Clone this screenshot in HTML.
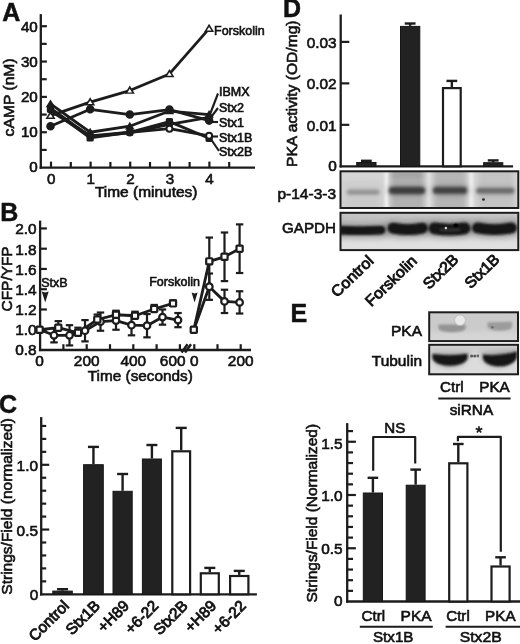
<!DOCTYPE html>
<html><head><meta charset="utf-8"><title>Figure</title>
<style>
html,body{margin:0;padding:0;background:#fff;}
body{width:520px;height:644px;overflow:hidden;font-family:"Liberation Sans",sans-serif;}
svg{display:block;will-change:transform;}
svg text{font-family:"Liberation Sans",sans-serif;fill:#111;stroke:#111;stroke-width:0.62px;}
</style></head><body>
<svg width="520" height="644" viewBox="0 0 520 644">
<defs>
<filter id="b1" filterUnits="userSpaceOnUse" x="0" y="0" width="520" height="644"><feGaussianBlur stdDeviation="0.7"/></filter>
<filter id="b15" filterUnits="userSpaceOnUse" x="0" y="0" width="520" height="644"><feGaussianBlur stdDeviation="1.3"/></filter>
<filter id="b2" filterUnits="userSpaceOnUse" x="0" y="0" width="520" height="644"><feGaussianBlur stdDeviation="1.6"/></filter>
<filter id="b3" filterUnits="userSpaceOnUse" x="0" y="0" width="520" height="644"><feGaussianBlur stdDeviation="2.6"/></filter>
<filter id="b4" filterUnits="userSpaceOnUse" x="0" y="0" width="520" height="644"><feGaussianBlur stdDeviation="4"/></filter>
</defs>
<rect width="520" height="644" fill="#fff"/>
<g id="panelA">
<line x1="40.80" y1="14.10" x2="40.80" y2="168.75" stroke="#1c1c1c" stroke-width="2.3" />
<line x1="39.65" y1="167.60" x2="255.00" y2="167.60" stroke="#1c1c1c" stroke-width="2.3" />
<line x1="40.80" y1="149.92" x2="46.70" y2="149.92" stroke="#1c1c1c" stroke-width="2.2" />
<line x1="40.80" y1="132.25" x2="46.90" y2="132.25" stroke="#1c1c1c" stroke-width="2.2" />
<line x1="40.80" y1="114.57" x2="46.70" y2="114.57" stroke="#1c1c1c" stroke-width="2.2" />
<line x1="40.80" y1="96.90" x2="46.90" y2="96.90" stroke="#1c1c1c" stroke-width="2.2" />
<line x1="40.80" y1="79.22" x2="46.70" y2="79.22" stroke="#1c1c1c" stroke-width="2.2" />
<line x1="40.80" y1="61.55" x2="46.90" y2="61.55" stroke="#1c1c1c" stroke-width="2.2" />
<line x1="40.80" y1="43.87" x2="46.70" y2="43.87" stroke="#1c1c1c" stroke-width="2.2" />
<line x1="40.80" y1="26.20" x2="46.90" y2="26.20" stroke="#1c1c1c" stroke-width="2.2" />
<text x="37.80" y="172.10" font-size="15.2" text-anchor="end" font-weight="normal" >0</text>
<text x="37.80" y="137.05" font-size="15.2" text-anchor="end" font-weight="normal" >10</text>
<text x="37.80" y="102.00" font-size="15.2" text-anchor="end" font-weight="normal" >20</text>
<text x="37.80" y="66.95" font-size="15.2" text-anchor="end" font-weight="normal" >30</text>
<text x="37.80" y="31.90" font-size="15.2" text-anchor="end" font-weight="normal" >40</text>
<line x1="51.00" y1="167.60" x2="51.00" y2="161.60" stroke="#1c1c1c" stroke-width="2.2" />
<line x1="70.80" y1="167.60" x2="70.80" y2="162.00" stroke="#1c1c1c" stroke-width="2.2" />
<line x1="90.60" y1="167.60" x2="90.60" y2="161.60" stroke="#1c1c1c" stroke-width="2.2" />
<line x1="110.40" y1="167.60" x2="110.40" y2="162.00" stroke="#1c1c1c" stroke-width="2.2" />
<line x1="130.20" y1="167.60" x2="130.20" y2="161.60" stroke="#1c1c1c" stroke-width="2.2" />
<line x1="150.00" y1="167.60" x2="150.00" y2="162.00" stroke="#1c1c1c" stroke-width="2.2" />
<line x1="169.80" y1="167.60" x2="169.80" y2="161.60" stroke="#1c1c1c" stroke-width="2.2" />
<line x1="189.60" y1="167.60" x2="189.60" y2="162.00" stroke="#1c1c1c" stroke-width="2.2" />
<line x1="209.40" y1="167.60" x2="209.40" y2="161.60" stroke="#1c1c1c" stroke-width="2.2" />
<line x1="229.20" y1="167.60" x2="229.20" y2="162.00" stroke="#1c1c1c" stroke-width="2.2" />
<text x="51.20" y="183.60" font-size="15.2" text-anchor="middle" font-weight="normal" >0</text>
<text x="90.80" y="183.60" font-size="15.2" text-anchor="middle" font-weight="normal" >1</text>
<text x="130.40" y="183.60" font-size="15.2" text-anchor="middle" font-weight="normal" >2</text>
<text x="170.00" y="183.60" font-size="15.2" text-anchor="middle" font-weight="normal" >3</text>
<text x="209.60" y="183.60" font-size="15.2" text-anchor="middle" font-weight="normal" >4</text>
<text x="146.20" y="197.40" font-size="14.8" text-anchor="middle" font-weight="normal"  textLength="102.5" lengthAdjust="spacingAndGlyphs">Time (minutes)</text>
<text x="14.30" y="97.40" font-size="14.8" text-anchor="middle" font-weight="normal" transform="rotate(-90 14.30 97.40)"  textLength="78" lengthAdjust="spacingAndGlyphs">cAMP (nM)</text>
<text x="2.3" y="20.6" font-size="25" font-weight="bold" style="stroke-width:0.5px">A</text>
<polyline points="50.50,108.21 90.15,136.49 129.80,132.96 169.45,124.47 209.10,117.40" fill="none" stroke="#1c1c1c" stroke-width="2.8" stroke-linejoin="round"/>
<polyline points="50.50,109.27 90.15,137.91 129.80,132.25 169.45,121.64 209.10,138.26" fill="none" stroke="#1c1c1c" stroke-width="2.8" stroke-linejoin="round"/>
<polyline points="50.50,111.04 90.15,135.78 129.80,132.25 169.45,128.71 209.10,135.78" fill="none" stroke="#1c1c1c" stroke-width="2.8" stroke-linejoin="round"/>
<polyline points="50.50,103.97 90.15,132.25 129.80,126.24 169.45,111.04 209.10,114.57" fill="none" stroke="#1c1c1c" stroke-width="2.8" stroke-linejoin="round"/>
<polyline points="50.50,126.24 90.15,109.27 129.80,114.57 169.45,109.63 209.10,120.58" fill="none" stroke="#1c1c1c" stroke-width="2.8" stroke-linejoin="round"/>
<polyline points="50.50,115.64 90.15,102.20 129.80,90.54 169.45,73.92 209.10,28.67" fill="none" stroke="#1c1c1c" stroke-width="2.8" stroke-linejoin="round"/>
<circle cx="50.50" cy="108.21" r="2.6" fill="#1c1c1c" stroke="#1c1c1c" stroke-width="1.8"/>
<circle cx="90.15" cy="136.49" r="2.6" fill="#1c1c1c" stroke="#1c1c1c" stroke-width="1.8"/>
<circle cx="129.80" cy="132.96" r="2.6" fill="#1c1c1c" stroke="#1c1c1c" stroke-width="1.8"/>
<circle cx="169.45" cy="124.47" r="2.6" fill="#1c1c1c" stroke="#1c1c1c" stroke-width="1.8"/>
<circle cx="209.10" cy="117.40" r="2.6" fill="#1c1c1c" stroke="#1c1c1c" stroke-width="1.8"/>
<rect x="47.75" y="106.52" width="5.5" height="5.5" rx="0.7" fill="#1c1c1c" stroke="#1c1c1c" stroke-width="1.8"/>
<rect x="87.40" y="135.16" width="5.5" height="5.5" rx="0.7" fill="#1c1c1c" stroke="#1c1c1c" stroke-width="1.8"/>
<rect x="127.05" y="129.50" width="5.5" height="5.5" rx="0.7" fill="#1c1c1c" stroke="#1c1c1c" stroke-width="1.8"/>
<rect x="166.70" y="118.89" width="5.5" height="5.5" rx="0.7" fill="#1c1c1c" stroke="#1c1c1c" stroke-width="1.8"/>
<rect x="206.35" y="135.51" width="5.5" height="5.5" rx="0.7" fill="#1c1c1c" stroke="#1c1c1c" stroke-width="1.8"/>
<polygon points="50.50,99.38 45.75,107.27 55.25,107.27" fill="#1c1c1c"/>
<polygon points="90.15,127.67 85.40,135.55 94.90,135.55" fill="#1c1c1c"/>
<polygon points="129.80,121.66 125.05,129.54 134.55,129.54" fill="#1c1c1c"/>
<polygon points="169.45,106.45 164.70,114.34 174.20,114.34" fill="#1c1c1c"/>
<polygon points="209.10,109.99 204.35,117.87 213.85,117.87" fill="#1c1c1c"/>
<circle cx="50.50" cy="126.24" r="3.4" fill="#1c1c1c" stroke="#1c1c1c" stroke-width="1.8"/>
<circle cx="90.15" cy="109.27" r="3.4" fill="#1c1c1c" stroke="#1c1c1c" stroke-width="1.8"/>
<circle cx="129.80" cy="114.57" r="3.4" fill="#1c1c1c" stroke="#1c1c1c" stroke-width="1.8"/>
<circle cx="169.45" cy="109.63" r="3.4" fill="#1c1c1c" stroke="#1c1c1c" stroke-width="1.8"/>
<circle cx="209.10" cy="120.58" r="3.4" fill="#1c1c1c" stroke="#1c1c1c" stroke-width="1.8"/>
<circle cx="169.45" cy="128.71" r="3.0" fill="#fff" stroke="#1c1c1c" stroke-width="2.0"/>
<circle cx="209.10" cy="135.78" r="3.0" fill="#fff" stroke="#1c1c1c" stroke-width="2.0"/>
<polygon points="50.50,110.64 45.50,118.94 55.50,118.94" fill="#1c1c1c"/>
<polygon points="50.50,113.96 48.15,117.54 52.85,117.54" fill="#fff"/>
<polygon points="90.15,97.20 85.15,105.50 95.15,105.50" fill="#1c1c1c"/>
<polygon points="90.15,100.52 87.80,104.10 92.50,104.10" fill="#fff"/>
<polygon points="129.80,85.54 124.80,93.84 134.80,93.84" fill="#1c1c1c"/>
<polygon points="129.80,88.86 127.45,92.44 132.15,92.44" fill="#fff"/>
<polygon points="169.45,68.92 164.45,77.22 174.45,77.22" fill="#1c1c1c"/>
<polygon points="169.45,72.24 167.10,75.82 171.80,75.82" fill="#fff"/>
<polygon points="209.10,23.67 204.10,31.97 214.10,31.97" fill="#1c1c1c"/>
<polygon points="209.10,26.99 206.75,30.57 211.45,30.57" fill="#fff"/>
<text x="214.00" y="34.50" font-size="12.5" text-anchor="start" font-weight="normal" style="stroke-width:0.6px">Forskolin</text>
<text x="219.00" y="96.30" font-size="12.5" text-anchor="start" font-weight="normal" style="stroke-width:0.65px">IBMX</text>
<text x="219.00" y="112.20" font-size="12.5" text-anchor="start" font-weight="normal" style="stroke-width:0.65px">Stx2</text>
<text x="219.00" y="127.00" font-size="12.5" text-anchor="start" font-weight="normal" style="stroke-width:0.65px">Stx1</text>
<text x="219.00" y="141.50" font-size="12.5" text-anchor="start" font-weight="normal" style="stroke-width:0.65px">Stx1B</text>
<text x="219.00" y="156.20" font-size="12.5" text-anchor="start" font-weight="normal" style="stroke-width:0.65px">Stx2B</text>
<line x1="218.00" y1="93.50" x2="210.50" y2="113.00" stroke="#1c1c1c" stroke-width="2.1" />
<line x1="218.00" y1="108.00" x2="211.50" y2="116.50" stroke="#1c1c1c" stroke-width="2.1" />
<line x1="212.00" y1="122.00" x2="218.00" y2="122.00" stroke="#1c1c1c" stroke-width="2.1" />
<line x1="212.00" y1="136.50" x2="218.00" y2="136.50" stroke="#1c1c1c" stroke-width="2.1" />
<line x1="211.50" y1="140.00" x2="219.00" y2="151.00" stroke="#1c1c1c" stroke-width="2.1" />
</g>
<g id="panelB">
<line x1="40.10" y1="220.60" x2="40.10" y2="351.15" stroke="#1c1c1c" stroke-width="2.3" />
<line x1="38.95" y1="350.00" x2="251.00" y2="350.00" stroke="#1c1c1c" stroke-width="2.3" />
<line x1="181.60" y1="352.60" x2="187.60" y2="344.20" stroke="#1c1c1c" stroke-width="2.5" />
<line x1="185.00" y1="352.60" x2="191.00" y2="344.20" stroke="#1c1c1c" stroke-width="2.5" />
<line x1="40.10" y1="329.74" x2="46.90" y2="329.74" stroke="#1c1c1c" stroke-width="2.2" />
<line x1="40.10" y1="309.48" x2="46.90" y2="309.48" stroke="#1c1c1c" stroke-width="2.2" />
<line x1="40.10" y1="289.22" x2="46.90" y2="289.22" stroke="#1c1c1c" stroke-width="2.2" />
<line x1="40.10" y1="268.96" x2="46.90" y2="268.96" stroke="#1c1c1c" stroke-width="2.2" />
<line x1="40.10" y1="248.70" x2="46.90" y2="248.70" stroke="#1c1c1c" stroke-width="2.2" />
<line x1="40.10" y1="228.44" x2="46.90" y2="228.44" stroke="#1c1c1c" stroke-width="2.2" />
<text x="36.70" y="354.60" font-size="15.4" text-anchor="end" font-weight="normal" >0.8</text>
<text x="36.70" y="334.58" font-size="15.4" text-anchor="end" font-weight="normal" >1.0</text>
<text x="36.70" y="314.56" font-size="15.4" text-anchor="end" font-weight="normal" >1.2</text>
<text x="36.70" y="294.54" font-size="15.4" text-anchor="end" font-weight="normal" >1.4</text>
<text x="36.70" y="274.52" font-size="15.4" text-anchor="end" font-weight="normal" >1.6</text>
<text x="36.70" y="254.50" font-size="15.4" text-anchor="end" font-weight="normal" >1.8</text>
<text x="36.70" y="234.48" font-size="15.4" text-anchor="end" font-weight="normal" >2.0</text>
<line x1="63.40" y1="350.00" x2="63.40" y2="344.20" stroke="#1c1c1c" stroke-width="2.2" />
<line x1="86.70" y1="350.00" x2="86.70" y2="344.20" stroke="#1c1c1c" stroke-width="2.2" />
<line x1="110.00" y1="350.00" x2="110.00" y2="344.20" stroke="#1c1c1c" stroke-width="2.2" />
<line x1="133.30" y1="350.00" x2="133.30" y2="344.20" stroke="#1c1c1c" stroke-width="2.2" />
<line x1="156.60" y1="350.00" x2="156.60" y2="344.20" stroke="#1c1c1c" stroke-width="2.2" />
<line x1="179.90" y1="350.00" x2="179.90" y2="344.20" stroke="#1c1c1c" stroke-width="2.2" />
<line x1="194.30" y1="350.00" x2="194.30" y2="344.20" stroke="#1c1c1c" stroke-width="2.2" />
<line x1="217.50" y1="350.00" x2="217.50" y2="344.20" stroke="#1c1c1c" stroke-width="2.2" />
<line x1="240.70" y1="350.00" x2="240.70" y2="344.20" stroke="#1c1c1c" stroke-width="2.2" />
<text x="39.50" y="366.10" font-size="15.4" text-anchor="middle" font-weight="normal" >0</text>
<text x="86.70" y="366.10" font-size="15.4" text-anchor="middle" font-weight="normal" >200</text>
<text x="133.30" y="366.10" font-size="15.4" text-anchor="middle" font-weight="normal" >400</text>
<text x="172.70" y="366.10" font-size="15.4" text-anchor="middle" font-weight="normal" >600</text>
<text x="194.30" y="366.10" font-size="15.4" text-anchor="middle" font-weight="normal" >0</text>
<text x="240.70" y="366.10" font-size="15.4" text-anchor="middle" font-weight="normal" >200</text>
<text x="140.30" y="381.20" font-size="15.3" text-anchor="middle" font-weight="normal"  textLength="105" lengthAdjust="spacingAndGlyphs">Time (seconds)</text>
<text x="12.20" y="278.90" font-size="15.3" text-anchor="middle" font-weight="normal" transform="rotate(-90 12.20 278.90)"  textLength="65" lengthAdjust="spacingAndGlyphs">CFP/YFP</text>
<text x="0.2" y="221.3" font-size="25" font-weight="bold" style="stroke-width:0.5px">B</text>
<text x="41.20" y="286.60" font-size="12.5" text-anchor="start" font-weight="normal" style="stroke-width:0.6px">StxB</text>
<path d="M41.70,291.50 L45.20,292.40 L48.70,291.50 L45.20,302.40 Z" fill="#1c1c1c"/>
<text x="149.20" y="286.20" font-size="12.5" text-anchor="start" font-weight="normal" style="stroke-width:0.6px">Forskolin</text>
<path d="M191.60,292.50 L194.60,293.40 L197.60,292.50 L194.60,302.50 Z" fill="#1c1c1c"/>
<polyline points="40.00,329.74 54.00,335.31 69.50,335.31 85.00,330.75 100.50,321.64 116.00,320.62 131.50,325.18 147.00,325.69 162.50,317.08 178.00,320.12" fill="none" stroke="#1c1c1c" stroke-width="2.8" stroke-linejoin="round"/>
<line x1="54.00" y1="328.22" x2="54.00" y2="342.40" stroke="#1c1c1c" stroke-width="2.2" />
<line x1="50.30" y1="328.22" x2="57.70" y2="328.22" stroke="#1c1c1c" stroke-width="2.2" />
<line x1="50.30" y1="342.40" x2="57.70" y2="342.40" stroke="#1c1c1c" stroke-width="2.2" />
<line x1="69.50" y1="325.18" x2="69.50" y2="345.44" stroke="#1c1c1c" stroke-width="2.2" />
<line x1="65.80" y1="325.18" x2="73.20" y2="325.18" stroke="#1c1c1c" stroke-width="2.2" />
<line x1="65.80" y1="345.44" x2="73.20" y2="345.44" stroke="#1c1c1c" stroke-width="2.2" />
<line x1="85.00" y1="320.12" x2="85.00" y2="341.39" stroke="#1c1c1c" stroke-width="2.2" />
<line x1="81.30" y1="320.12" x2="88.70" y2="320.12" stroke="#1c1c1c" stroke-width="2.2" />
<line x1="81.30" y1="341.39" x2="88.70" y2="341.39" stroke="#1c1c1c" stroke-width="2.2" />
<line x1="100.50" y1="312.52" x2="100.50" y2="330.75" stroke="#1c1c1c" stroke-width="2.2" />
<line x1="96.80" y1="312.52" x2="104.20" y2="312.52" stroke="#1c1c1c" stroke-width="2.2" />
<line x1="96.80" y1="330.75" x2="104.20" y2="330.75" stroke="#1c1c1c" stroke-width="2.2" />
<line x1="116.00" y1="311.51" x2="116.00" y2="329.74" stroke="#1c1c1c" stroke-width="2.2" />
<line x1="112.30" y1="311.51" x2="119.70" y2="311.51" stroke="#1c1c1c" stroke-width="2.2" />
<line x1="112.30" y1="329.74" x2="119.70" y2="329.74" stroke="#1c1c1c" stroke-width="2.2" />
<line x1="131.50" y1="315.05" x2="131.50" y2="335.31" stroke="#1c1c1c" stroke-width="2.2" />
<line x1="127.80" y1="315.05" x2="135.20" y2="315.05" stroke="#1c1c1c" stroke-width="2.2" />
<line x1="127.80" y1="335.31" x2="135.20" y2="335.31" stroke="#1c1c1c" stroke-width="2.2" />
<line x1="147.00" y1="314.04" x2="147.00" y2="337.34" stroke="#1c1c1c" stroke-width="2.2" />
<line x1="143.30" y1="314.04" x2="150.70" y2="314.04" stroke="#1c1c1c" stroke-width="2.2" />
<line x1="143.30" y1="337.34" x2="150.70" y2="337.34" stroke="#1c1c1c" stroke-width="2.2" />
<line x1="162.50" y1="309.48" x2="162.50" y2="324.68" stroke="#1c1c1c" stroke-width="2.2" />
<line x1="158.80" y1="309.48" x2="166.20" y2="309.48" stroke="#1c1c1c" stroke-width="2.2" />
<line x1="158.80" y1="324.68" x2="166.20" y2="324.68" stroke="#1c1c1c" stroke-width="2.2" />
<line x1="178.00" y1="313.03" x2="178.00" y2="327.21" stroke="#1c1c1c" stroke-width="2.2" />
<line x1="174.30" y1="313.03" x2="181.70" y2="313.03" stroke="#1c1c1c" stroke-width="2.2" />
<line x1="174.30" y1="327.21" x2="181.70" y2="327.21" stroke="#1c1c1c" stroke-width="2.2" />
<polyline points="39.60,329.74 58.30,327.71 78.00,332.78 97.30,319.61 116.00,314.75 135.00,315.76 154.20,308.97 173.00,303.40" fill="none" stroke="#1c1c1c" stroke-width="2.8" stroke-linejoin="round"/>
<line x1="58.30" y1="327.71" x2="58.30" y2="321.13" stroke="#1c1c1c" stroke-width="2.2" />
<line x1="54.60" y1="321.13" x2="62.00" y2="321.13" stroke="#1c1c1c" stroke-width="2.2" />
<line x1="78.00" y1="332.78" x2="78.00" y2="327.71" stroke="#1c1c1c" stroke-width="2.2" />
<line x1="74.30" y1="327.71" x2="81.70" y2="327.71" stroke="#1c1c1c" stroke-width="2.2" />
<line x1="97.30" y1="319.61" x2="97.30" y2="314.55" stroke="#1c1c1c" stroke-width="2.2" />
<line x1="93.60" y1="314.55" x2="101.00" y2="314.55" stroke="#1c1c1c" stroke-width="2.2" />
<line x1="116.00" y1="314.75" x2="116.00" y2="310.70" stroke="#1c1c1c" stroke-width="2.2" />
<line x1="112.30" y1="310.70" x2="119.70" y2="310.70" stroke="#1c1c1c" stroke-width="2.2" />
<line x1="135.00" y1="315.76" x2="135.00" y2="311.71" stroke="#1c1c1c" stroke-width="2.2" />
<line x1="131.30" y1="311.71" x2="138.70" y2="311.71" stroke="#1c1c1c" stroke-width="2.2" />
<line x1="154.20" y1="308.97" x2="154.20" y2="304.92" stroke="#1c1c1c" stroke-width="2.2" />
<line x1="150.50" y1="304.92" x2="157.90" y2="304.92" stroke="#1c1c1c" stroke-width="2.2" />
<line x1="173.00" y1="303.40" x2="173.00" y2="300.36" stroke="#1c1c1c" stroke-width="2.2" />
<line x1="169.30" y1="300.36" x2="176.70" y2="300.36" stroke="#1c1c1c" stroke-width="2.2" />
<circle cx="54.00" cy="335.31" r="3.3" fill="#fff" stroke="#1c1c1c" stroke-width="2.2"/>
<circle cx="69.50" cy="335.31" r="3.3" fill="#fff" stroke="#1c1c1c" stroke-width="2.2"/>
<circle cx="85.00" cy="330.75" r="3.3" fill="#fff" stroke="#1c1c1c" stroke-width="2.2"/>
<circle cx="100.50" cy="321.64" r="3.3" fill="#fff" stroke="#1c1c1c" stroke-width="2.2"/>
<circle cx="116.00" cy="320.62" r="3.3" fill="#fff" stroke="#1c1c1c" stroke-width="2.2"/>
<circle cx="131.50" cy="325.18" r="3.3" fill="#fff" stroke="#1c1c1c" stroke-width="2.2"/>
<circle cx="147.00" cy="325.69" r="3.3" fill="#fff" stroke="#1c1c1c" stroke-width="2.2"/>
<circle cx="162.50" cy="317.08" r="3.3" fill="#fff" stroke="#1c1c1c" stroke-width="2.2"/>
<circle cx="178.00" cy="320.12" r="3.3" fill="#fff" stroke="#1c1c1c" stroke-width="2.2"/>
<rect x="36.50" y="326.64" width="6.2" height="6.2" rx="0.7" fill="#fff" stroke="#1c1c1c" stroke-width="2.2"/>
<rect x="55.20" y="324.61" width="6.2" height="6.2" rx="0.7" fill="#fff" stroke="#1c1c1c" stroke-width="2.2"/>
<rect x="74.90" y="329.68" width="6.2" height="6.2" rx="0.7" fill="#fff" stroke="#1c1c1c" stroke-width="2.2"/>
<rect x="94.20" y="316.51" width="6.2" height="6.2" rx="0.7" fill="#fff" stroke="#1c1c1c" stroke-width="2.2"/>
<rect x="112.90" y="311.65" width="6.2" height="6.2" rx="0.7" fill="#fff" stroke="#1c1c1c" stroke-width="2.2"/>
<rect x="131.90" y="312.66" width="6.2" height="6.2" rx="0.7" fill="#fff" stroke="#1c1c1c" stroke-width="2.2"/>
<rect x="151.10" y="305.87" width="6.2" height="6.2" rx="0.7" fill="#fff" stroke="#1c1c1c" stroke-width="2.2"/>
<rect x="169.90" y="300.30" width="6.2" height="6.2" rx="0.7" fill="#fff" stroke="#1c1c1c" stroke-width="2.2"/>
<polyline points="193.80,329.74 209.30,286.69 224.50,301.38 239.60,302.39" fill="none" stroke="#1c1c1c" stroke-width="2.8" stroke-linejoin="round"/>
<polyline points="193.80,329.74 209.30,261.36 224.50,256.80 239.60,248.70" fill="none" stroke="#1c1c1c" stroke-width="2.8" stroke-linejoin="round"/>
<line x1="209.30" y1="237.56" x2="209.30" y2="285.17" stroke="#1c1c1c" stroke-width="2.2" />
<line x1="205.60" y1="237.56" x2="213.00" y2="237.56" stroke="#1c1c1c" stroke-width="2.2" />
<line x1="205.60" y1="285.17" x2="213.00" y2="285.17" stroke="#1c1c1c" stroke-width="2.2" />
<line x1="224.50" y1="232.49" x2="224.50" y2="281.12" stroke="#1c1c1c" stroke-width="2.2" />
<line x1="220.80" y1="232.49" x2="228.20" y2="232.49" stroke="#1c1c1c" stroke-width="2.2" />
<line x1="220.80" y1="281.12" x2="228.20" y2="281.12" stroke="#1c1c1c" stroke-width="2.2" />
<line x1="239.60" y1="224.39" x2="239.60" y2="273.01" stroke="#1c1c1c" stroke-width="2.2" />
<line x1="235.90" y1="224.39" x2="243.30" y2="224.39" stroke="#1c1c1c" stroke-width="2.2" />
<line x1="235.90" y1="273.01" x2="243.30" y2="273.01" stroke="#1c1c1c" stroke-width="2.2" />
<line x1="209.30" y1="273.52" x2="209.30" y2="299.86" stroke="#1c1c1c" stroke-width="2.2" />
<line x1="205.60" y1="273.52" x2="213.00" y2="273.52" stroke="#1c1c1c" stroke-width="2.2" />
<line x1="205.60" y1="299.86" x2="213.00" y2="299.86" stroke="#1c1c1c" stroke-width="2.2" />
<line x1="224.50" y1="289.73" x2="224.50" y2="313.03" stroke="#1c1c1c" stroke-width="2.2" />
<line x1="220.80" y1="289.73" x2="228.20" y2="289.73" stroke="#1c1c1c" stroke-width="2.2" />
<line x1="220.80" y1="313.03" x2="228.20" y2="313.03" stroke="#1c1c1c" stroke-width="2.2" />
<line x1="239.60" y1="291.25" x2="239.60" y2="313.53" stroke="#1c1c1c" stroke-width="2.2" />
<line x1="235.90" y1="291.25" x2="243.30" y2="291.25" stroke="#1c1c1c" stroke-width="2.2" />
<line x1="235.90" y1="313.53" x2="243.30" y2="313.53" stroke="#1c1c1c" stroke-width="2.2" />
<circle cx="209.30" cy="286.69" r="3.3" fill="#fff" stroke="#1c1c1c" stroke-width="2.2"/>
<circle cx="224.50" cy="301.38" r="3.3" fill="#fff" stroke="#1c1c1c" stroke-width="2.2"/>
<circle cx="239.60" cy="302.39" r="3.3" fill="#fff" stroke="#1c1c1c" stroke-width="2.2"/>
<rect x="190.70" y="326.64" width="6.2" height="6.2" rx="0.7" fill="#fff" stroke="#1c1c1c" stroke-width="2.2"/>
<rect x="206.20" y="258.26" width="6.2" height="6.2" rx="0.7" fill="#fff" stroke="#1c1c1c" stroke-width="2.2"/>
<rect x="221.40" y="253.70" width="6.2" height="6.2" rx="0.7" fill="#fff" stroke="#1c1c1c" stroke-width="2.2"/>
<rect x="236.50" y="245.60" width="6.2" height="6.2" rx="0.7" fill="#fff" stroke="#1c1c1c" stroke-width="2.2"/>
</g>
<g id="panelC">
<line x1="41.20" y1="417.10" x2="41.20" y2="595.45" stroke="#1c1c1c" stroke-width="2.3" />
<line x1="40.05" y1="594.30" x2="256.90" y2="594.30" stroke="#1c1c1c" stroke-width="2.3" />
<line x1="41.20" y1="581.35" x2="46.20" y2="581.35" stroke="#1c1c1c" stroke-width="2.2" />
<line x1="41.20" y1="568.40" x2="46.20" y2="568.40" stroke="#1c1c1c" stroke-width="2.2" />
<line x1="41.20" y1="555.45" x2="46.20" y2="555.45" stroke="#1c1c1c" stroke-width="2.2" />
<line x1="41.20" y1="542.50" x2="46.20" y2="542.50" stroke="#1c1c1c" stroke-width="2.2" />
<line x1="41.20" y1="529.55" x2="49.20" y2="529.55" stroke="#1c1c1c" stroke-width="2.2" />
<line x1="41.20" y1="516.60" x2="46.20" y2="516.60" stroke="#1c1c1c" stroke-width="2.2" />
<line x1="41.20" y1="503.65" x2="46.20" y2="503.65" stroke="#1c1c1c" stroke-width="2.2" />
<line x1="41.20" y1="490.70" x2="46.20" y2="490.70" stroke="#1c1c1c" stroke-width="2.2" />
<line x1="41.20" y1="477.75" x2="46.20" y2="477.75" stroke="#1c1c1c" stroke-width="2.2" />
<line x1="41.20" y1="464.80" x2="49.20" y2="464.80" stroke="#1c1c1c" stroke-width="2.2" />
<line x1="41.20" y1="451.85" x2="46.20" y2="451.85" stroke="#1c1c1c" stroke-width="2.2" />
<line x1="41.20" y1="438.90" x2="46.20" y2="438.90" stroke="#1c1c1c" stroke-width="2.2" />
<line x1="41.20" y1="425.95" x2="46.20" y2="425.95" stroke="#1c1c1c" stroke-width="2.2" />
<text x="38.00" y="470.80" font-size="15.4" text-anchor="end" font-weight="normal" >1.0</text>
<text x="38.00" y="535.50" font-size="15.4" text-anchor="end" font-weight="normal" >0.5</text>
<text x="38.20" y="600.20" font-size="15.4" text-anchor="end" font-weight="normal" >0</text>
<text x="12.10" y="506.40" font-size="15.5" text-anchor="middle" font-weight="normal" transform="rotate(-90 12.10 506.40)"  textLength="176.5" lengthAdjust="spacingAndGlyphs">Strings/Field (normalized)</text>
<text x="-1.0" y="412.7" font-size="25" font-weight="bold" style="stroke-width:0.5px">C</text>
<line x1="62.55" y1="590.60" x2="62.55" y2="589.20" stroke="#1c1c1c" stroke-width="2.4" />
<line x1="57.05" y1="589.20" x2="68.05" y2="589.20" stroke="#1c1c1c" stroke-width="2.4" />
<rect x="52.80" y="591.10" width="19.50" height="3.20" fill="#222" stroke="#161616" stroke-width="1.0"/>
<text x="70.05" y="606.80" font-size="15.4" text-anchor="end" font-weight="normal" transform="rotate(-45 70.05 606.80)"  style="stroke-width:0.85px">Control</text>
<line x1="93.45" y1="464.20" x2="93.45" y2="446.90" stroke="#1c1c1c" stroke-width="2.4" />
<line x1="87.95" y1="446.90" x2="98.95" y2="446.90" stroke="#1c1c1c" stroke-width="2.4" />
<rect x="83.60" y="464.70" width="19.70" height="129.60" fill="#222" stroke="#161616" stroke-width="1.0"/>
<text x="100.95" y="606.80" font-size="15.4" text-anchor="end" font-weight="normal" transform="rotate(-45 100.95 606.80)"  style="stroke-width:0.85px">Stx1B</text>
<line x1="122.60" y1="490.80" x2="122.60" y2="474.00" stroke="#1c1c1c" stroke-width="2.4" />
<line x1="117.10" y1="474.00" x2="128.10" y2="474.00" stroke="#1c1c1c" stroke-width="2.4" />
<rect x="113.00" y="491.30" width="19.20" height="103.00" fill="#222" stroke="#161616" stroke-width="1.0"/>
<text x="130.10" y="606.80" font-size="15.4" text-anchor="end" font-weight="normal" transform="rotate(-45 130.10 606.80)"  style="stroke-width:0.85px">+H89</text>
<line x1="151.90" y1="458.50" x2="151.90" y2="445.00" stroke="#1c1c1c" stroke-width="2.4" />
<line x1="146.40" y1="445.00" x2="157.40" y2="445.00" stroke="#1c1c1c" stroke-width="2.4" />
<rect x="142.40" y="459.00" width="19.00" height="135.30" fill="#222" stroke="#161616" stroke-width="1.0"/>
<text x="159.40" y="606.80" font-size="15.4" text-anchor="end" font-weight="normal" transform="rotate(-45 159.40 606.80)"  style="stroke-width:0.85px">+6-22</text>
<line x1="181.20" y1="450.20" x2="181.20" y2="427.90" stroke="#1c1c1c" stroke-width="2.4" />
<line x1="175.70" y1="427.90" x2="186.70" y2="427.90" stroke="#1c1c1c" stroke-width="2.4" />
<rect x="172.30" y="451.30" width="17.80" height="143.00" fill="#fff" stroke="#1c1c1c" stroke-width="2.2"/>
<text x="188.70" y="606.80" font-size="15.4" text-anchor="end" font-weight="normal" transform="rotate(-45 188.70 606.80)"  style="stroke-width:0.85px">Stx2B</text>
<line x1="209.80" y1="572.20" x2="209.80" y2="567.90" stroke="#1c1c1c" stroke-width="2.4" />
<line x1="204.30" y1="567.90" x2="215.30" y2="567.90" stroke="#1c1c1c" stroke-width="2.4" />
<rect x="200.80" y="573.30" width="18.00" height="21.00" fill="#fff" stroke="#1c1c1c" stroke-width="2.2"/>
<text x="217.30" y="606.80" font-size="15.4" text-anchor="end" font-weight="normal" transform="rotate(-45 217.30 606.80)"  style="stroke-width:0.85px">+H89</text>
<line x1="239.25" y1="574.90" x2="239.25" y2="570.90" stroke="#1c1c1c" stroke-width="2.4" />
<line x1="233.75" y1="570.90" x2="244.75" y2="570.90" stroke="#1c1c1c" stroke-width="2.4" />
<rect x="230.10" y="576.00" width="18.30" height="18.30" fill="#fff" stroke="#1c1c1c" stroke-width="2.2"/>
<text x="246.75" y="606.80" font-size="15.4" text-anchor="end" font-weight="normal" transform="rotate(-45 246.75 606.80)"  style="stroke-width:0.85px">+6-22</text>
</g>
<g id="panelD">
<line x1="340.70" y1="14.50" x2="340.70" y2="167.45" stroke="#1c1c1c" stroke-width="2.3" />
<line x1="339.55" y1="166.30" x2="513.10" y2="166.30" stroke="#1c1c1c" stroke-width="2.3" />
<line x1="340.70" y1="124.83" x2="349.30" y2="124.83" stroke="#1c1c1c" stroke-width="2.2" />
<text x="336.60" y="130.83" font-size="15.4" text-anchor="end" font-weight="normal" >0.01</text>
<line x1="340.70" y1="83.36" x2="349.30" y2="83.36" stroke="#1c1c1c" stroke-width="2.2" />
<text x="336.60" y="89.36" font-size="15.4" text-anchor="end" font-weight="normal" >0.02</text>
<line x1="340.70" y1="41.89" x2="349.30" y2="41.89" stroke="#1c1c1c" stroke-width="2.2" />
<text x="336.60" y="47.89" font-size="15.4" text-anchor="end" font-weight="normal" >0.03</text>
<text x="336.80" y="171.20" font-size="15.4" text-anchor="end" font-weight="normal" >0</text>
<text x="297.50" y="93.70" font-size="15.4" text-anchor="middle" font-weight="normal" transform="rotate(-90 297.50 93.70)"  textLength="146.5" lengthAdjust="spacingAndGlyphs">PKA activity (OD/mg)</text>
<text x="283.1" y="17.4" font-size="25" font-weight="bold" style="stroke-width:0.5px">D</text>
<line x1="366.35" y1="162.00" x2="366.35" y2="160.80" stroke="#1c1c1c" stroke-width="2.4" />
<line x1="360.95" y1="160.80" x2="371.75" y2="160.80" stroke="#1c1c1c" stroke-width="2.4" />
<rect x="356.70" y="162.50" width="19.30" height="3.80" fill="#222" stroke="#161616" stroke-width="1.0"/>
<line x1="410.15" y1="25.90" x2="410.15" y2="23.50" stroke="#1c1c1c" stroke-width="2.4" />
<line x1="404.75" y1="23.50" x2="415.55" y2="23.50" stroke="#1c1c1c" stroke-width="2.4" />
<rect x="400.50" y="26.40" width="19.30" height="139.90" fill="#222" stroke="#161616" stroke-width="1.0"/>
<line x1="451.85" y1="87.00" x2="451.85" y2="80.90" stroke="#1c1c1c" stroke-width="2.4" />
<line x1="446.45" y1="80.90" x2="457.25" y2="80.90" stroke="#1c1c1c" stroke-width="2.4" />
<rect x="443.00" y="88.10" width="17.70" height="78.20" fill="#fff" stroke="#1c1c1c" stroke-width="2.2"/>
<line x1="493.20" y1="162.20" x2="493.20" y2="160.40" stroke="#1c1c1c" stroke-width="2.4" />
<line x1="487.80" y1="160.40" x2="498.60" y2="160.40" stroke="#1c1c1c" stroke-width="2.4" />
<rect x="483.60" y="162.70" width="19.20" height="3.60" fill="#222" stroke="#161616" stroke-width="1.0"/>
<clipPath id="bl1"><rect x="340.5" y="171.3" width="177.8" height="36.7"/></clipPath>
<rect x="340.5" y="171.3" width="177.8" height="36.7" fill="#d6d6d6"/>
<g clip-path="url(#bl1)">
<rect x="391" y="166" width="33" height="50" fill="#8e8e8e" opacity="0.5" filter="url(#b3)"/>
<rect x="434" y="166" width="32" height="50" fill="#8e8e8e" opacity="0.45" filter="url(#b3)"/>
<rect x="478" y="166" width="36" height="50" fill="#a0a0a0" opacity="0.35" filter="url(#b3)"/>
<rect x="342" y="182" width="40" height="30" fill="#b0b0b0" opacity="0.3" filter="url(#b4)"/>
<rect x="384.5" y="166" width="3.6" height="50" fill="#f4f4f4" opacity="0.85" filter="url(#b15)"/>
<rect x="469" y="166" width="4.4" height="50" fill="#f0f0f0" opacity="0.8" filter="url(#b15)"/>
<rect x="427.5" y="166" width="3" height="50" fill="#eeeeee" opacity="0.5" filter="url(#b15)"/>
<path d="M393.0,190.4 Q407.0,190.4 421.0,190.4" fill="none" stroke="#555" stroke-width="11" stroke-linecap="round" opacity="0.35" filter="url(#b3)"/>
<path d="M437.0,190.4 Q450.5,190.4 464.0,190.4" fill="none" stroke="#555" stroke-width="11" stroke-linecap="round" opacity="0.32" filter="url(#b3)"/>
<path d="M480.0,190.8 Q495.5,190.8 511.0,190.8" fill="none" stroke="#666" stroke-width="9" stroke-linecap="round" opacity="0.25" filter="url(#b3)"/>
<path d="M393.0,175.0 Q407.0,175.0 421.0,175.0" fill="none" stroke="#777" stroke-width="5" stroke-linecap="round" opacity="0.3" filter="url(#b3)"/>
<path d="M349.5,192.2 Q363.2,192.2 377.0,192.2" fill="none" stroke="#828282" stroke-width="5.2" stroke-linecap="round" opacity="0.72" filter="url(#b2)"/>
<path d="M392.5,190.4 Q407.0,190.4 421.5,190.4" fill="none" stroke="#303030" stroke-width="7.0" stroke-linecap="round" opacity="0.88" filter="url(#b2)"/>
<path d="M436.5,190.4 Q450.0,190.4 463.5,190.4" fill="none" stroke="#343434" stroke-width="6.8" stroke-linecap="round" opacity="0.86" filter="url(#b2)"/>
<path d="M479.0,190.8 Q495.2,190.8 511.5,190.8" fill="none" stroke="#5a5a5a" stroke-width="5.4" stroke-linecap="round" opacity="0.8" filter="url(#b2)"/>
<ellipse cx="483.5" cy="199.5" rx="1.5" ry="1.2" fill="#2a2a2a" filter="url(#b1)"/>
</g>
<rect x="340.5" y="171.3" width="177.8" height="36.7" fill="none" stroke="#1c1c1c" stroke-width="2.0"/>
<clipPath id="bl2"><rect x="340.5" y="212.8" width="177.8" height="37.3"/></clipPath>
<rect x="340.5" y="212.8" width="177.8" height="37.3" fill="#d2d2d2"/>
<g clip-path="url(#bl2)">
<rect x="336" y="240" width="190" height="14" fill="#e6e6e6" opacity="0.7" filter="url(#b3)"/>
<rect x="336" y="212" width="190" height="12" fill="#b4b4b4" opacity="0.5" filter="url(#b3)"/>
<path d="M340.0,230.0 Q361.0,230.8 382.0,230.0" fill="none" stroke="#444" stroke-width="15" stroke-linecap="round" opacity="0.35" filter="url(#b3)"/>
<path d="M392.0,228.4 Q407.5,230.8 423.0,228.4" fill="none" stroke="#444" stroke-width="16" stroke-linecap="round" opacity="0.38" filter="url(#b3)"/>
<path d="M434.0,228.4 Q449.5,230.4 465.0,228.4" fill="none" stroke="#444" stroke-width="17" stroke-linecap="round" opacity="0.4" filter="url(#b3)"/>
<path d="M477.0,228.0 Q494.5,230.8 512.0,228.0" fill="none" stroke="#444" stroke-width="16" stroke-linecap="round" opacity="0.38" filter="url(#b3)"/>
<path d="M338.0,230.1 Q359.5,231.1 381.0,230.1" fill="none" stroke="#151515" stroke-width="8.8" stroke-linecap="round" opacity="1" filter="url(#b15)"/>
<path d="M393.0,228.1 Q407.8,231.1 422.5,228.1" fill="none" stroke="#131313" stroke-width="10.8" stroke-linecap="round" opacity="1" filter="url(#b15)"/>
<path d="M434.5,228.4 Q449.5,230.8 464.5,228.4" fill="none" stroke="#131313" stroke-width="11.8" stroke-linecap="round" opacity="1" filter="url(#b15)"/>
<path d="M477.5,227.9 Q494.5,231.3 511.5,227.9" fill="none" stroke="#131313" stroke-width="10.8" stroke-linecap="round" opacity="1" filter="url(#b15)"/>
<path d="M441.0,229.7 Q450.0,230.3 459.0,229.7" fill="none" stroke="#4a4a4a" stroke-width="3.0" stroke-linecap="round" opacity="0.55" filter="url(#b15)"/>
<ellipse cx="455.8" cy="225.4" rx="2.4" ry="2.0" fill="#000" filter="url(#b1)"/>
<circle cx="445.9" cy="228.1" r="1.3" fill="#d0d0d0" filter="url(#b1)"/>
</g>
<rect x="340.5" y="212.8" width="177.8" height="37.3" fill="none" stroke="#1c1c1c" stroke-width="2.0"/>
<text x="336.00" y="198.70" font-size="15" text-anchor="end" font-weight="normal"  textLength="58.5" lengthAdjust="spacingAndGlyphs">p-14-3-3</text>
<text x="336.00" y="233.20" font-size="15" text-anchor="end" font-weight="normal"  textLength="54" lengthAdjust="spacingAndGlyphs">GAPDH</text>
<text x="374.50" y="262.00" font-size="15.4" text-anchor="end" font-weight="normal" transform="rotate(-44 374.50 262.00)"  textLength="52" lengthAdjust="spacingAndGlyphs" style="stroke-width:0.85px">Control</text>
<text x="418.00" y="262.00" font-size="15.4" text-anchor="end" font-weight="normal" transform="rotate(-44 418.00 262.00)"  textLength="65" lengthAdjust="spacingAndGlyphs" style="stroke-width:0.85px">Forskolin</text>
<text x="459.50" y="260.50" font-size="15.4" text-anchor="end" font-weight="normal" transform="rotate(-44 459.50 260.50)"  textLength="42.5" lengthAdjust="spacingAndGlyphs" style="stroke-width:0.85px">Stx2B</text>
<text x="500.50" y="260.50" font-size="15.4" text-anchor="end" font-weight="normal" transform="rotate(-44 500.50 260.50)"  textLength="41.5" lengthAdjust="spacingAndGlyphs" style="stroke-width:0.85px">Stx1B</text>
</g>
<g id="panelE">
<text x="290.4" y="322.3" font-size="25" font-weight="bold" style="stroke-width:0.5px">E</text>
<clipPath id="bl3"><rect x="429.2" y="312.3" width="88.8" height="28.8"/></clipPath>
<rect x="429.2" y="312.3" width="88.8" height="28.8" fill="#cbcbcb"/>
<g clip-path="url(#bl3)">
<rect x="425" y="332" width="100" height="12" fill="#dcdcdc" opacity="0.6" filter="url(#b3)"/>
<path d="M438.5,324.4 L465.5,324.4 L465.5,328.4 C464,333.4 440,333.4 438.5,328.4 Z" fill="#858585" opacity="0.78" filter="url(#b15)"/>
<path d="M487.5,322.2 L512,321.8 L512,326.8 C510.5,332.2 489,332.2 487.5,326.8 Z" fill="#8a8a8a" opacity="0.72" filter="url(#b15)"/>
<circle cx="492.3" cy="327.2" r="1.3" fill="#555" opacity="0.7" filter="url(#b1)"/>
<circle cx="460" cy="320.2" r="5.4" fill="#e9e9e9" stroke="#b8b8b8" stroke-width="0.8" filter="url(#b1)"/>
</g>
<rect x="429.2" y="312.3" width="88.8" height="28.8" fill="none" stroke="#1c1c1c" stroke-width="2.0"/>
<clipPath id="bl4"><rect x="429.2" y="344.8" width="88.8" height="29.5"/></clipPath>
<rect x="429.2" y="344.8" width="88.8" height="29.5" fill="#dcdcdc"/>
<g clip-path="url(#bl4)">
<rect x="425" y="344" width="100" height="9" fill="#bdbdbd" opacity="0.5" filter="url(#b3)"/>
<path d="M431,353 L469,353 C469,372 431,372 431,353 Z" fill="#444" opacity="0.4" filter="url(#b3)"/>
<path d="M481,353 L518,350 C518,372 481,372 481,353 Z" fill="#444" opacity="0.4" filter="url(#b3)"/>
<path d="M432.5,354.0 Q450,356.4 467.5,353.8 L467.5,358 C465,368.2 435,368.2 432.5,358 Z" fill="#121212" filter="url(#b15)"/>
<path d="M483,354.4 Q498,356.8 516.8,351.4 L516.8,357 C514,369.2 486,369.2 483,358.5 Z" fill="#121212" filter="url(#b15)"/>
<circle cx="471.6" cy="356.0" r="1.5" fill="#555" filter="url(#b1)"/>
<circle cx="474.7" cy="356.0" r="1.5" fill="#5a5a5a" filter="url(#b1)"/>
<circle cx="477.8" cy="356.0" r="1.4" fill="#666" filter="url(#b1)"/>
</g>
<rect x="429.2" y="344.8" width="88.8" height="29.5" fill="none" stroke="#1c1c1c" stroke-width="2.0"/>
<text x="422.00" y="336.30" font-size="15" text-anchor="end" font-weight="normal"  textLength="31" lengthAdjust="spacingAndGlyphs">PKA</text>
<text x="422.00" y="366.00" font-size="15.5" text-anchor="end" font-weight="normal" >Tubulin</text>
<text x="451.80" y="391.90" font-size="15" text-anchor="middle" font-weight="normal"  textLength="23.5" lengthAdjust="spacingAndGlyphs">Ctrl</text>
<text x="494.50" y="391.90" font-size="15" text-anchor="middle" font-weight="normal"  textLength="30.5" lengthAdjust="spacingAndGlyphs">PKA</text>
<line x1="438.30" y1="398.50" x2="510.60" y2="398.50" stroke="#1c1c1c" stroke-width="2.0" />
<text x="471.40" y="415.40" font-size="15" text-anchor="middle" font-weight="normal"  textLength="43.5" lengthAdjust="spacingAndGlyphs">siRNA</text>
<line x1="347.20" y1="423.10" x2="347.20" y2="602.65" stroke="#1c1c1c" stroke-width="2.3" />
<line x1="346.05" y1="601.50" x2="520.00" y2="601.50" stroke="#1c1c1c" stroke-width="2.3" />
<line x1="347.20" y1="590.85" x2="353.00" y2="590.85" stroke="#1c1c1c" stroke-width="2.2" />
<line x1="347.20" y1="580.20" x2="353.00" y2="580.20" stroke="#1c1c1c" stroke-width="2.2" />
<line x1="347.20" y1="569.55" x2="353.00" y2="569.55" stroke="#1c1c1c" stroke-width="2.2" />
<line x1="347.20" y1="558.90" x2="353.00" y2="558.90" stroke="#1c1c1c" stroke-width="2.2" />
<line x1="347.20" y1="548.25" x2="355.90" y2="548.25" stroke="#1c1c1c" stroke-width="2.2" />
<line x1="347.20" y1="537.60" x2="353.00" y2="537.60" stroke="#1c1c1c" stroke-width="2.2" />
<line x1="347.20" y1="526.95" x2="353.00" y2="526.95" stroke="#1c1c1c" stroke-width="2.2" />
<line x1="347.20" y1="516.30" x2="353.00" y2="516.30" stroke="#1c1c1c" stroke-width="2.2" />
<line x1="347.20" y1="505.65" x2="353.00" y2="505.65" stroke="#1c1c1c" stroke-width="2.2" />
<line x1="347.20" y1="495.00" x2="355.90" y2="495.00" stroke="#1c1c1c" stroke-width="2.2" />
<line x1="347.20" y1="484.35" x2="353.00" y2="484.35" stroke="#1c1c1c" stroke-width="2.2" />
<line x1="347.20" y1="473.70" x2="353.00" y2="473.70" stroke="#1c1c1c" stroke-width="2.2" />
<line x1="347.20" y1="463.05" x2="353.00" y2="463.05" stroke="#1c1c1c" stroke-width="2.2" />
<line x1="347.20" y1="452.40" x2="353.00" y2="452.40" stroke="#1c1c1c" stroke-width="2.2" />
<line x1="347.20" y1="441.75" x2="355.90" y2="441.75" stroke="#1c1c1c" stroke-width="2.2" />
<line x1="347.20" y1="431.10" x2="353.00" y2="431.10" stroke="#1c1c1c" stroke-width="2.2" />
<text x="342.60" y="606.00" font-size="15.4" text-anchor="end" font-weight="normal" >0</text>
<text x="342.60" y="553.50" font-size="15.4" text-anchor="end" font-weight="normal" >0.5</text>
<text x="342.60" y="501.00" font-size="15.4" text-anchor="end" font-weight="normal" >1.0</text>
<text x="342.60" y="448.50" font-size="15.4" text-anchor="end" font-weight="normal" >1.5</text>
<text x="316.60" y="513.20" font-size="15.5" text-anchor="middle" font-weight="normal" transform="rotate(-90 316.60 513.20)"  textLength="178.5" lengthAdjust="spacingAndGlyphs">Strings/Field (Normalized)</text>
<line x1="372.90" y1="492.50" x2="372.90" y2="477.80" stroke="#1c1c1c" stroke-width="2.4" />
<line x1="367.60" y1="477.80" x2="378.20" y2="477.80" stroke="#1c1c1c" stroke-width="2.4" />
<rect x="363.30" y="493.00" width="19.20" height="108.50" fill="#222" stroke="#161616" stroke-width="1.0"/>
<line x1="415.65" y1="484.70" x2="415.65" y2="469.60" stroke="#1c1c1c" stroke-width="2.4" />
<line x1="410.35" y1="469.60" x2="420.95" y2="469.60" stroke="#1c1c1c" stroke-width="2.4" />
<rect x="406.20" y="485.20" width="18.90" height="116.30" fill="#222" stroke="#161616" stroke-width="1.0"/>
<line x1="458.30" y1="462.20" x2="458.30" y2="444.00" stroke="#1c1c1c" stroke-width="2.4" />
<line x1="453.00" y1="444.00" x2="463.60" y2="444.00" stroke="#1c1c1c" stroke-width="2.4" />
<rect x="449.20" y="463.30" width="18.20" height="138.20" fill="#fff" stroke="#1c1c1c" stroke-width="2.2"/>
<line x1="500.55" y1="565.40" x2="500.55" y2="557.30" stroke="#1c1c1c" stroke-width="2.4" />
<line x1="495.25" y1="557.30" x2="505.85" y2="557.30" stroke="#1c1c1c" stroke-width="2.4" />
<rect x="491.50" y="566.50" width="18.10" height="35.00" fill="#fff" stroke="#1c1c1c" stroke-width="2.2"/>
<text x="373.30" y="620.70" font-size="15.4" text-anchor="middle" font-weight="normal"  textLength="23.5" lengthAdjust="spacingAndGlyphs">Ctrl</text>
<text x="416.10" y="620.70" font-size="15.4" text-anchor="middle" font-weight="normal"  textLength="31" lengthAdjust="spacingAndGlyphs">PKA</text>
<text x="458.00" y="620.70" font-size="15.4" text-anchor="middle" font-weight="normal"  textLength="23.5" lengthAdjust="spacingAndGlyphs">Ctrl</text>
<text x="500.30" y="620.70" font-size="15.4" text-anchor="middle" font-weight="normal"  textLength="30.5" lengthAdjust="spacingAndGlyphs">PKA</text>
<line x1="359.80" y1="626.80" x2="432.80" y2="626.80" stroke="#1c1c1c" stroke-width="2.1" />
<line x1="445.60" y1="626.80" x2="520.00" y2="626.80" stroke="#1c1c1c" stroke-width="2.1" />
<text x="393.20" y="642.30" font-size="15.4" text-anchor="middle" font-weight="normal"  textLength="40.6" lengthAdjust="spacingAndGlyphs">Stx1B</text>
<text x="480.70" y="642.30" font-size="15.4" text-anchor="middle" font-weight="normal"  textLength="42" lengthAdjust="spacingAndGlyphs">Stx2B</text>
<polyline points="373.20,470.80 373.20,437.00 415.20,437.00 415.20,463.40" fill="none" stroke="#1c1c1c" stroke-width="2.2" stroke-linejoin="round"/>
<text x="394.80" y="432.80" font-size="15.4" text-anchor="middle" font-weight="normal"  textLength="21" lengthAdjust="spacingAndGlyphs">NS</text>
<polyline points="457.90,441.20 457.90,436.90 500.80,436.90 500.80,551.70" fill="none" stroke="#1c1c1c" stroke-width="2.2" stroke-linejoin="round"/>
<line x1="479.00" y1="429.70" x2="479.00" y2="426.20" stroke="#1c1c1c" stroke-width="1.7" />
<line x1="479.00" y1="429.70" x2="482.33" y2="428.62" stroke="#1c1c1c" stroke-width="1.7" />
<line x1="479.00" y1="429.70" x2="481.06" y2="432.53" stroke="#1c1c1c" stroke-width="1.7" />
<line x1="479.00" y1="429.70" x2="476.94" y2="432.53" stroke="#1c1c1c" stroke-width="1.7" />
<line x1="479.00" y1="429.70" x2="475.67" y2="428.62" stroke="#1c1c1c" stroke-width="1.7" />
</g>
</svg></body></html>
